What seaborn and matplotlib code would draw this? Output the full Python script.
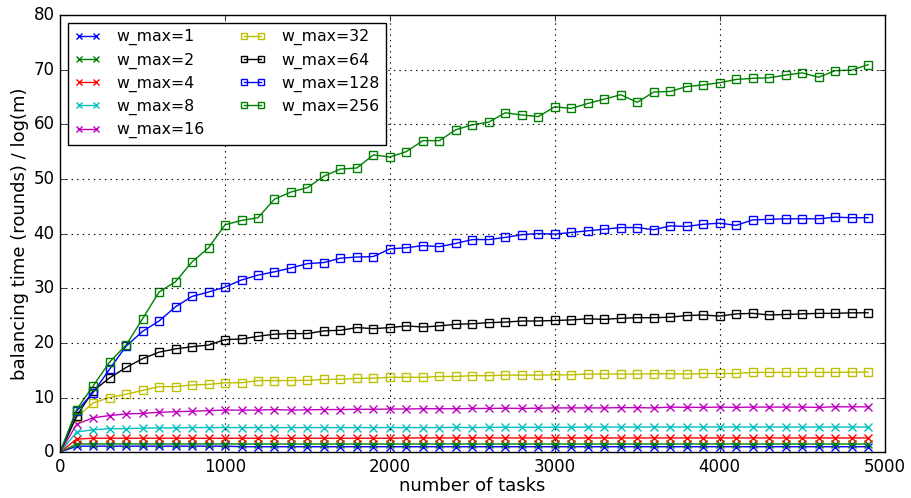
import numpy as np
import pandas as pd
import matplotlib
matplotlib.use("Agg")
import matplotlib.pyplot as plt
import seaborn as sns

# number of tasks: 0, 100, ..., 4900
tasks = list(range(0, 5000, 100))

w1 = [0, 1.1, 1.1, 1.1, 1.1, 1.1, 1.1, 1.1, 1.1, 1.1, 1.1, 1.0, 1.0, 1.0, 1.0, 1.0, 1.0, 1.0, 1.0, 1.0,
      1.0, 1.0, 1.0, 1.0, 1.0, 1.0, 1.0, 1.0, 1.0, 1.0, 1.0, 1.0, 1.0, 1.0, 1.0, 1.0, 1.0, 1.0, 1.0, 1.0,
      1.0, 1.0, 1.0, 1.0, 1.0, 1.0, 1.0, 1.0, 1.0, 1.0]
w2 = [0, 1.5, 1.5, 1.5, 1.5, 1.5, 1.5, 1.5, 1.5, 1.5, 1.5, 1.5, 1.5, 1.5, 1.5, 1.5, 1.5, 1.5, 1.5, 1.5,
      1.5, 1.5, 1.5, 1.5, 1.5, 1.5, 1.5, 1.5, 1.5, 1.5, 1.5, 1.5, 1.5, 1.5, 1.5, 1.5, 1.5, 1.5, 1.5, 1.5,
      1.5, 1.5, 1.5, 1.5, 1.5, 1.5, 1.5, 1.5, 1.5, 1.5]
w4 = [0, 2.4, 2.55, 2.55, 2.55, 2.55, 2.55, 2.55, 2.55, 2.55, 2.55, 2.55, 2.55, 2.55, 2.55, 2.55, 2.55,
      2.55, 2.55, 2.55, 2.55, 2.6, 2.6, 2.6, 2.6, 2.6, 2.6, 2.6, 2.6, 2.6, 2.6, 2.6, 2.6, 2.6, 2.6, 2.6,
      2.6, 2.6, 2.6, 2.6, 2.6, 2.6, 2.6, 2.6, 2.6, 2.6, 2.6, 2.6, 2.6, 2.6]
w8 = [0, 3.7, 4.1, 4.3, 4.3, 4.4, 4.45, 4.45, 4.5, 4.5, 4.5, 4.5, 4.5, 4.5, 4.5, 4.5, 4.5, 4.5, 4.5, 4.5,
      4.5, 4.5, 4.5, 4.5, 4.55, 4.5, 4.55, 4.55, 4.55, 4.55, 4.55, 4.55, 4.6, 4.6, 4.6, 4.6, 4.6, 4.6,
      4.6, 4.6, 4.6, 4.6, 4.6, 4.6, 4.6, 4.6, 4.6, 4.6, 4.6, 4.6]
w16 = [0, 5.1, 6.3, 6.7, 7.0, 7.1, 7.3, 7.4, 7.5, 7.6, 7.7, 7.7, 7.7, 7.8, 7.7, 7.75, 7.8, 7.8, 7.85,
       7.85, 7.9, 7.9, 7.95, 7.95, 7.95, 8.0, 8.0, 8.05, 8.0, 8.05, 8.1, 8.1, 8.1, 8.1, 8.15, 8.15, 8.1,
       8.25, 8.2, 8.2, 8.25, 8.2, 8.25, 8.25, 8.25, 8.25, 8.2, 8.3, 8.3, 8.3]
w32 = [0, 6.4, 9.0, 10.0, 10.6, 11.3, 12.0, 12.0, 12.3, 12.4, 12.7, 12.7, 13.1, 13.1, 13.1, 13.15, 13.3,
       13.35, 13.5, 13.55, 13.7, 13.7, 13.7, 13.85, 13.85, 14.0, 14.0, 14.1, 14.1, 14.1, 14.15, 14.15,
       14.3, 14.3, 14.3, 14.3, 14.35, 14.35, 14.3, 14.4, 14.4, 14.4, 14.6, 14.6, 14.6, 14.6, 14.6, 14.6,
       14.65, 14.65]
w64 = [0, 6.6, 11.2, 13.6, 15.5, 17.1, 18.3, 18.9, 19.3, 19.6, 20.6, 20.7, 21.2, 21.6, 21.7, 21.7, 22.2,
       22.3, 22.8, 22.6, 22.8, 23.1, 22.9, 23.1, 23.4, 23.5, 23.7, 23.8, 24.0, 24.0, 24.1, 24.2, 24.4,
       24.3, 24.5, 24.6, 24.6, 24.7, 25.0, 25.1, 24.9, 25.3, 25.4, 25.1, 25.2, 25.3, 25.4, 25.4, 25.5, 25.5]
w128 = [0, 7.5, 10.9, 15.2, 19.4, 22.1, 24.0, 26.6, 28.5, 29.3, 30.2, 31.5, 32.4, 33.0, 33.7, 34.5, 34.7,
        35.5, 35.7, 35.8, 37.2, 37.4, 37.8, 37.6, 38.2, 38.9, 38.9, 39.3, 39.8, 40.0, 39.9, 40.2, 40.5,
        40.8, 41.1, 41.1, 40.7, 41.4, 41.3, 41.7, 41.9, 41.5, 42.5, 42.6, 42.7, 42.7, 42.7, 43.0, 42.9, 42.9]
w256 = [0, 7.8, 12.1, 16.5, 19.6, 24.4, 29.3, 31.2, 34.8, 37.4, 41.6, 42.4, 42.9, 46.3, 47.6, 48.4, 50.5,
        51.8, 52.0, 54.4, 54.0, 55.0, 57.0, 57.0, 59.0, 59.9, 60.4, 62.1, 61.7, 61.4, 63.2, 62.9, 63.8,
        64.6, 65.4, 64.0, 65.9, 66.0, 66.9, 67.2, 67.6, 68.2, 68.4, 68.5, 69.0, 69.4, 68.6, 69.8, 69.9, 70.9]

series = [("w_max=1", w1), ("w_max=2", w2), ("w_max=4", w4), ("w_max=8", w8), ("w_max=16", w16),
          ("w_max=32", w32), ("w_max=64", w64), ("w_max=128", w128), ("w_max=256", w256)]
colors = ["b", "g", "r", "c", "m", "y", "k", "b", "g"]
markers = ["x", "x", "x", "x", "x", "s", "s", "s", "s"]

plt.style.use("classic")
fig = plt.figure(figsize=(9.11, 4.98), dpi=100, facecolor="white")
ax = fig.add_axes([0.066, 0.092, 0.905, 0.878])

for (name, vals), c, m in zip(series, colors, markers):
    df = pd.DataFrame({"tasks": tasks, "t": vals})
    sns.lineplot(data=df, x="tasks", y="t", ax=ax, color=c, marker=m, label=name,
                 markersize=5.5, markerfacecolor="none", markeredgecolor=c,
                 markeredgewidth=1.0, linewidth=1.0, markevery=slice(1, None))

ax.set_xlim(0, 5000)
ax.set_ylim(0, 80)
ax.set_xticks(range(0, 5001, 1000))
ax.set_yticks(range(0, 81, 10))
ax.grid(True, linestyle=":", color="k", linewidth=0.8)
ax.set_xlabel("number of tasks", fontsize=13, labelpad=1)
ax.set_ylabel("balancing time (rounds) / log(m)", fontsize=13, labelpad=3)
ax.tick_params(labelsize=12)
ax.legend(loc="upper left", ncol=2, fontsize=11.3, numpoints=2, handlelength=1.7,
          handletextpad=1.0, columnspacing=2.2, labelspacing=0.45, markerscale=0.7,
          frameon=True, fancybox=False)

fig.savefig("out.png", dpi=100, facecolor="white")
